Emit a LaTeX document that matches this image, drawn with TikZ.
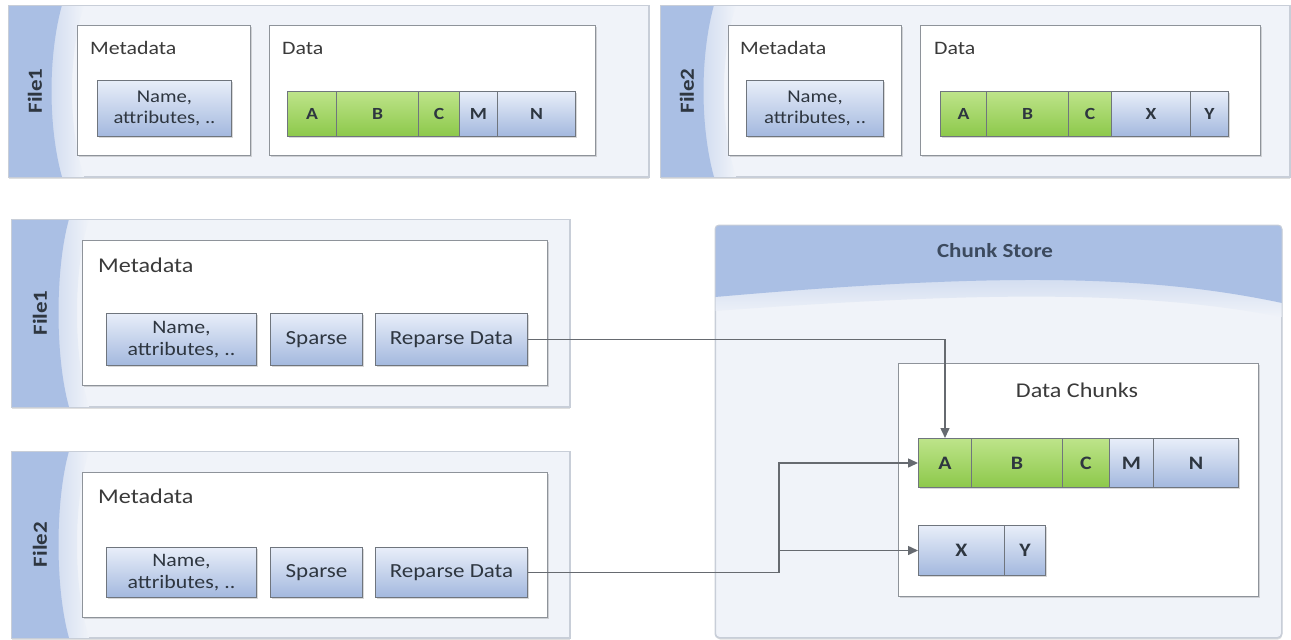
\documentclass[tikz,border=0pt]{standalone}
\usepackage{fontspec}
\setmainfont{Carlito}[FakeStretch=1.15]
\usetikzlibrary{shadows,arrows.meta,calc}
\definecolor{panelbg}{HTML}{F0F3F9}
\definecolor{panelln}{HTML}{C8CED8}
\definecolor{stripb}{HTML}{AABFE4}
\definecolor{stripl}{HTML}{D6E0F2}
\definecolor{boxln}{HTML}{8E939A}
\definecolor{cellln}{HTML}{6F757D}
\definecolor{bluetop}{HTML}{E8EEF9}
\definecolor{bluebot}{HTML}{A3B8DE}
\definecolor{greentop}{HTML}{BEE48A}
\definecolor{greenbot}{HTML}{8CC84A}
\definecolor{txt}{HTML}{3A3A3A}
\definecolor{celltxt}{HTML}{2E3640}
\definecolor{conncol}{HTML}{666A70}
\definecolor{cstitle}{HTML}{3C4A5E}
\newcommand\fsz[2]{\fontsize{#1pt}{#2pt}\selectfont}
% \bx{style}{x1}{y1}{x2}{y2}{name}{text}
\newcommand\bx[7]{\node[#1, anchor=north west, minimum width={(#4-#2)*1pt}, minimum height={(#5-#3)*1pt}] (#6) at (#2,#3) {#7};}
\newcommand\mkstrip[3]{%
  \shade[left color=stripb, right color=panelbg] (#1.north west) -- ($(#1.north west)+(#3,0)$) .. controls +(-16,50) and +(-16,-50) .. ($(#1.south west)+(#3,0)$) -- (#1.south west) -- cycle;
  \fill[stripb] (#1.north west) -- ($(#1.north west)+(#2,0)$) .. controls +(-14,50) and +(-14,-50) .. ($(#1.south west)+(#2,0)$) -- (#1.south west) -- cycle;
  \draw[panelln, line width=1pt] (#1.north west) rectangle (#1.south east);}
\tikzset{
  panel/.style={draw=panelln, fill=panelbg, line width=1pt, inner sep=0pt,
    drop shadow={shadow xshift=0.5pt, shadow yshift=-2pt, opacity=0.25}},
  wbox/.style={draw=boxln, fill=white, line width=1.3pt, inner sep=0pt,
    drop shadow={shadow xshift=1pt, shadow yshift=-1.5pt, opacity=0.3}},
  cellbase/.style={draw=cellln, line width=1pt, inner sep=0pt, text=celltxt, align=center,
    drop shadow={shadow xshift=1pt, shadow yshift=-1.5pt, opacity=0.3}},
  bcell/.style={cellbase, top color=bluetop, bottom color=bluebot},
  gcell/.style={cellbase, top color=greentop, bottom color=greenbot},
  ttl/.style={anchor=base west, inner sep=0pt, text=txt},
  filelbl/.style={rotate=90, inner sep=0pt, text=celltxt, font=\bfseries\fsz{20}{22}},
  conn/.style={draw=conncol, line width=1.5pt},
  tip/.style={-{Triangle[length=10pt,width=9pt]}},
  lt/.style={font=\bfseries\fsz{17}{19}},
  lb/.style={font=\bfseries\fsz{19}{21}},
}
\begin{document}
\begin{tikzpicture}[x=1pt,y=-1pt]
\useasboundingbox (0,0) rectangle (1291,640);
% ---------- top-left File1 ----------
\bx{panel}{8}{5}{648}{176}{p1}{}
\mkstrip{p1}{54}{76}
\node[filelbl] (f1) at ($(p1.west)+(27,0)$) {File1};
\bx{wbox}{77}{25}{250}{155}{m1}{}
\node[ttl, font=\fsz{19}{21}] (m1t) at (90,54) {Metadata};
\bx{bcell, font=\fsz{18}{21}}{97}{80}{231}{136}{n1}{Name,\\attributes, ..}
\bx{wbox}{269}{25}{595}{155}{d1}{}
\node[ttl, font=\fsz{19}{21}] (d1t) at (282,54) {Data};
\bx{gcell, lt}{287}{91}{336}{136}{t1a}{A}
\bx{gcell, lt}{336}{91}{418}{136}{t1b}{B}
\bx{gcell, lt}{418}{91}{459}{136}{t1c}{C}
\bx{bcell, lt}{459}{91}{497}{136}{t1m}{M}
\bx{bcell, lt}{497}{91}{575}{136}{t1n}{N}
% ---------- top-right File2 ----------
\bx{panel}{660}{5}{1289}{176}{p2}{}
\mkstrip{p2}{54}{76}
\node[filelbl] (f2) at ($(p2.west)+(27,0)$) {File2};
\bx{wbox}{728}{25}{901}{155}{m2}{}
\node[ttl, font=\fsz{19}{21}] (m2t) at (740,54) {Metadata};
\bx{bcell, font=\fsz{18}{21}}{746}{80}{883}{136}{n2}{Name,\\attributes, ..}
\bx{wbox}{920}{25}{1260}{155}{d2}{}
\node[ttl, font=\fsz{19}{21}] (d2t) at (934,54) {Data};
\bx{gcell, lt}{940}{91}{986}{136}{t2a}{A}
\bx{gcell, lt}{986}{91}{1068}{136}{t2b}{B}
\bx{gcell, lt}{1068}{91}{1111}{136}{t2c}{C}
\bx{bcell, lt}{1111}{91}{1190}{136}{t2x}{X}
\bx{bcell, lt}{1190}{91}{1228}{136}{t2y}{Y}
% ---------- middle-left File1 ----------
\bx{panel}{11}{219}{569}{406}{p3}{}
\mkstrip{p3}{58}{78}
\node[filelbl] (f3) at ($(p3.west)+(29,0)$) {File1};
\bx{wbox}{82}{240}{547}{385}{m3}{}
\node[ttl, font=\fsz{21}{23}] (m3t) at (98,272) {Metadata};
\bx{bcell, font=\fsz{19}{22}}{106}{313}{256}{365}{n3}{Name,\\attributes, ..}
\bx{bcell, font=\fsz{20}{22}}{270}{313}{362}{365}{s3}{Sparse}
\bx{bcell, font=\fsz{20}{22}}{375}{313}{527}{365}{rp1}{Reparse Data}
% ---------- bottom-left File2 ----------
\bx{panel}{11}{451}{569}{637}{p4}{}
\mkstrip{p4}{58}{78}
\node[filelbl] (f4) at ($(p4.west)+(29,0)$) {File2};
\bx{wbox}{82}{472}{547}{617}{m4}{}
\node[ttl, font=\fsz{21}{23}] (m4t) at (98,503) {Metadata};
\bx{bcell, font=\fsz{19}{22}}{106}{547}{256}{597}{n4}{Name,\\attributes, ..}
\bx{bcell, font=\fsz{20}{22}}{270}{547}{362}{597}{s4}{Sparse}
\bx{bcell, font=\fsz{20}{22}}{375}{547}{527}{597}{rp2}{Reparse Data}
% ---------- Chunk Store ----------
\bx{panel, rounded corners=4pt}{715}{225}{1281}{637}{cs}{}
\begin{scope}
  \clip[rounded corners=4pt] (cs.north west) rectangle (cs.south east);
  \shade[top color=stripb, bottom color=panelbg] (cs.north west) -- (cs.north east) -- ($(cs.north east)+(0,92)$) .. controls (1150,292) and (1000,290) .. ($(cs.north west)+(0,86)$) -- cycle;
  \fill[stripb] (cs.north west) -- (cs.north east) -- ($(cs.north east)+(0,78)$) .. controls (1150,275) and (1000,272) .. ($(cs.north west)+(0,72)$) -- cycle;
\end{scope}
\draw[panelln, line width=1pt, rounded corners=4pt] (cs.north west) rectangle (cs.south east);
\node[inner sep=0pt, text=cstitle, font=\bfseries\fsz{20}{22}] (cst) at (995,251) {Chunk Store};
\bx{wbox}{898}{363}{1258}{596}{dc}{}
\node[inner sep=0pt, text=txt, font=\fsz{21}{23}] (dct) at (1077,390) {Data Chunks};
\bx{gcell, lb}{918}{438}{971}{487}{a1}{A}
\bx{gcell, lb}{971}{438}{1062}{487}{b1}{B}
\bx{gcell, lb}{1062}{438}{1109}{487}{c1}{C}
\bx{bcell, lb}{1109}{438}{1153}{487}{mm1}{M}
\bx{bcell, lb}{1153}{438}{1238}{487}{nn1}{N}
\bx{bcell, lb}{918}{525}{1004}{575}{x1}{X}
\bx{bcell, lb}{1004}{525}{1045}{575}{y1}{Y}
% ---------- connectors ----------
\coordinate (jx) at (779,0);
\draw[conn, tip] (rp1.east) -| (a1.north);
\draw[conn, tip] (rp2.east) -| (jx |- a1.west) -- (a1.west);
\draw[conn, tip] (jx |- x1.west) -- (x1.west);
\end{tikzpicture}
\end{document}
